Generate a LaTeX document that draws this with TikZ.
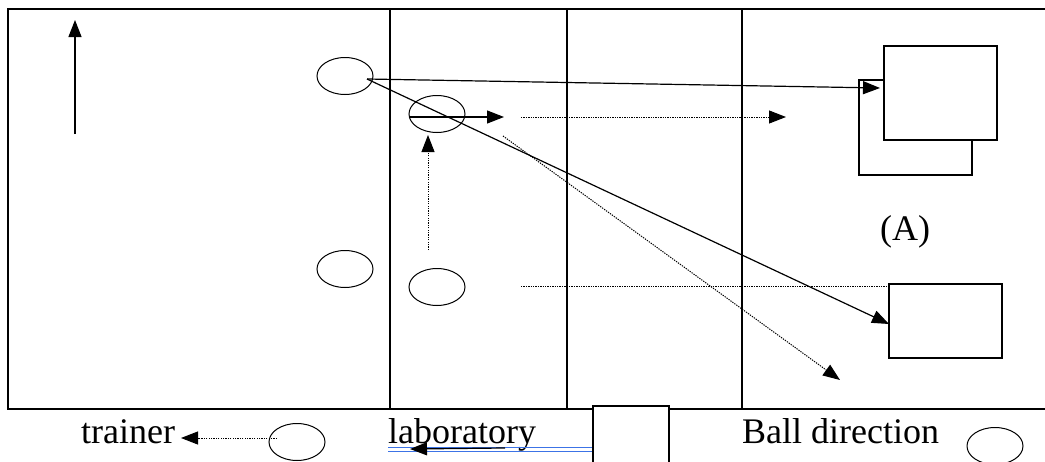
\documentclass[tikz,border=0pt]{standalone}
\usepackage{fontspec}
\setmainfont{Liberation Serif}
\usetikzlibrary{shapes.geometric,arrows.meta}
\begin{document}
\begin{tikzpicture}[x=1pt,y=-1pt,
  frame/.style={line width=1.3pt},
  ell/.style={draw,ellipse,line width=1pt,minimum width=56pt,minimum height=37pt,inner sep=0pt},
  box/.style={draw,rectangle,line width=1.2pt,fill=white,inner sep=0pt},
  tip/.style={-{Triangle[length=17pt,width=13pt]}},
  solidarrow/.style={tip,line width=1.2pt},
  dotarrow/.style={tip,line width=1pt,dash pattern=on 1.3pt off 1.1pt},
  dotline/.style={line width=1pt,dash pattern=on 1.3pt off 1.1pt},
  lbl/.style={font=\fontsize{36}{40}\selectfont,inner sep=0pt,anchor=base west}]
\useasboundingbox (0,0) rectangle (1045,461);
\clip (0,0) rectangle (1045,461);
% field frame
\draw[frame] (8,9) rectangle (1047,409);
\draw[frame] (390,9) -- (390,409);
\draw[frame] (567,9) -- (567,409);
\draw[frame] (742,9) -- (742,409);
% players
\node[ell] (e1) at (345,76) {};
\node[ell] (e2) at (437,114) {};
\node[ell] (e3) at (345,269) {};
\node[ell] (e4) at (437,287) {};
\node[ell] (e5) at (297,442) {};
\node[ell] (e6) at (995,446) {};
% goals
\node[box,minimum width=113pt,minimum height=95pt] (bk) at (915.5,127.5) {};
\node[box,minimum width=113pt,minimum height=94pt] (fr) at (940.5,93) {};
\node[box,minimum width=113pt,minimum height=74pt] (lr) at (945.5,321) {};
% coordinates
\coordinate (a0) at (75,134);
\coordinate (a1) at (75,20);
\coordinate (s1) at (367,79);
\coordinate (t1) at (880,88);
\coordinate (t2) at (889,324);
\coordinate (s3) at (410,117);
\coordinate (t3) at (504,117);
\coordinate (s4) at (521,117);
\coordinate (t4) at (786,117);
\coordinate (s5) at (521,286);
\coordinate (t5) at (lr.north west);
\coordinate (s6) at (503,136);
\coordinate (t6) at (840,380);
\coordinate (s7) at (428,250);
\coordinate (t7) at (428,135);
\coordinate (s8) at (277,438);
\coordinate (t8) at (181,438);
% arrows
\draw[solidarrow] (a0) -- (a1);
\draw[solidarrow] (s1) -- (t1);
\draw[solidarrow] (s1) -- (t2);
\draw[solidarrow] (s3) -- (t3);
\draw[dotarrow] (s4) -- (t4);
\draw[dotline] (s5) -- (t5 |- s5);
\draw[dotarrow] (s6) -- (t6);
\draw[dotarrow] (s7) -- (t7);
\draw[dotarrow] (s8) -- (t8);
% legend
\node[lbl] (tr) at (81,443) {trainer};
\node[lbl] (lab) at (388,443) {laboratory};
\node[lbl] (bd) at (742,443) {Ball direction};
\node[lbl] (A) at (880,240) {(A)};
\node[box,minimum width=76pt,minimum height=70pt] (bs) at (631,441) {};
\coordinate (b0) at (388,447.5);
\coordinate (b1) at (388,451.5);
\draw[line width=1.1pt,color={rgb,255:red,60;green,115;blue,230}] (b0) -- (bs.west |- b0) (b1) -- (bs.west |- b1);
\coordinate (s9) at (505,448);
\coordinate (t9) at (410,449);
\draw[solidarrow] (s9) -- (t9);
\end{tikzpicture}
\end{document}
